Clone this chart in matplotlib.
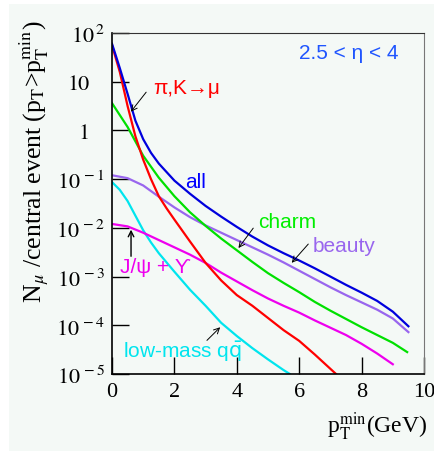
import numpy as np
import matplotlib
matplotlib.use('Agg')
import matplotlib.pyplot as plt
from matplotlib.patches import Rectangle
from matplotlib.ticker import FixedLocator, NullFormatter, LogLocator

plt.rcParams['mathtext.fontset'] = 'stix'

# curves: pT_min (GeV) and log10(N_mu / central event)
x_pik = [0, 0.25, 0.5, 0.75, 1.0, 1.25, 1.5, 1.75, 2.0, 2.5, 3.0, 3.5, 4.0, 4.5, 5.0, 5.5, 6.0, 6.5, 7.18]
y_pik = [1.75, 1.2, 0.5, -0.12, -0.6, -1.0, -1.35, -1.6, -1.83, -2.28, -2.72, -3.08, -3.38,
         -3.6, -3.85, -4.1, -4.32, -4.6, -5.0]

x_all = [0, 0.25, 0.5, 0.75, 1.0, 1.25, 1.5, 2.0, 2.5, 3.0, 3.5, 4.0, 4.5, 5.0, 5.5, 6.0, 6.5,
         7.0, 7.5, 8.0, 8.5, 9.0, 9.5]
y_all = [1.78, 1.28, 0.75, 0.2, -0.18, -0.46, -0.68, -1.03, -1.3, -1.55, -1.77, -1.98, -2.18,
         -2.36, -2.52, -2.67, -2.83, -3.0, -3.17, -3.33, -3.5, -3.72, -4.02]

x_charm = [0, 0.5, 1.0, 1.5, 2.0, 2.5, 3.0, 3.5, 4.0, 4.5, 5.0, 5.5, 6.0, 6.5, 7.0, 7.5, 8.0,
           8.5, 9.0, 9.46]
y_charm = [0.56, 0.07, -0.52, -0.97, -1.35, -1.68, -1.96, -2.22, -2.46, -2.7, -2.93, -3.13,
           -3.32, -3.52, -3.7, -3.87, -4.04, -4.2, -4.36, -4.55]

x_beauty = [0, 0.5, 1.0, 1.5, 2.0, 2.5, 3.0, 3.5, 4.0, 4.5, 5.0, 5.5, 6.0, 6.5, 7.0, 7.5, 8.0,
            8.5, 9.0, 9.5]
y_beauty = [-0.92, -0.98, -1.13, -1.36, -1.58, -1.78, -1.95, -2.1, -2.25, -2.4, -2.55, -2.71,
            -2.88, -3.05, -3.22, -3.38, -3.53, -3.68, -3.86, -4.14]

x_lowmass = [0, 0.25, 0.5, 0.75, 1.0, 1.25, 1.5, 2.0, 2.5, 3.0, 3.5, 4.0, 4.5, 5.0, 5.5, 5.7]
y_lowmass = [-1.06, -1.22, -1.45, -1.75, -2.05, -2.3, -2.52, -2.9, -3.27, -3.6, -3.95, -4.22,
             -4.47, -4.7, -4.92, -5.0]

x_onia = [0, 0.5, 1.0, 1.5, 2.0, 2.5, 3.0, 3.5, 4.0, 4.5, 5.0, 5.5, 6.0, 6.5, 7.0, 7.5, 8.0,
          8.5, 9.0]
y_onia = [-1.92, -1.97, -2.1, -2.25, -2.4, -2.55, -2.72, -2.92, -3.1, -3.28, -3.45, -3.6,
          -3.74, -3.9, -4.05, -4.2, -4.38, -4.58, -4.8]

ytick_vals = [1e-5, 1e-4, 1e-3, 1e-2, 1e-1, 1, 10, 100]
ytick_labels = [r'$10^{\,-5}$', r'$10^{\,-4}$', r'$10^{\,-3}$', r'$10^{\,-2}$',
                r'$10^{\,-1}$', '1', '10', r'$10^{\,2}$']

bg = '#f4f9f6'
fig = plt.figure(figsize=(4.35, 4.52), dpi=100, facecolor='white')
fig.patches.append(Rectangle((9 / 435, 0), 1, 1 - 5 / 452, transform=fig.transFigure,
                             facecolor=bg, edgecolor='none', zorder=-10))
ax = fig.add_axes([112 / 435, 1 - 375 / 452, 312 / 435, 341 / 452])
ax.set_facecolor(bg)

lw = 1.6
ax.plot(x_beauty, 10 ** np.array(y_beauty), color='#9966ee', lw=lw)
ax.plot(x_lowmass, 10 ** np.array(y_lowmass), color='#00e5ee', lw=lw)
ax.plot(x_onia, 10 ** np.array(y_onia), color='#ee00ee', lw=lw)
ax.plot(x_charm, 10 ** np.array(y_charm), color='#00e000', lw=lw)
ax.plot(x_pik, 10 ** np.array(y_pik), color='#ff0000', lw=lw)
ax.plot(x_all, 10 ** np.array(y_all), color='#0000dd', lw=lw)

ax.set_yscale('log')
ax.set_xlim(0, 10)
ax.set_ylim(1e-5, 1e2)

# exponent labels go on the axis; "1" and "10" are set further left, as in the original
ax.yaxis.set_major_locator(FixedLocator(ytick_vals))
ax.set_yticklabels([l if l.startswith('$') else '' for l in ytick_labels])
ytrans = ax.get_yaxis_transform()
for v, l in zip(ytick_vals, ytick_labels):
    if not l.startswith('$'):
        ax.text(-22 / 312, v, l, transform=ytrans, ha='right', va='center_baseline',
                fontsize=16, family='STIXGeneral')
ax.yaxis.set_minor_locator(LogLocator(base=10, subs=np.arange(2, 10)))
ax.yaxis.set_minor_formatter(NullFormatter())
ax.set_xticks([0, 2, 4, 6, 8, 10])
ax.set_xticklabels(['0', '2', '4', '6', '8', '10'])
ax.tick_params(axis='both', which='major', direction='in', length=12, width=1,
               labelsize=16, pad=6, top=False, right=False)
ax.tick_params(axis='y', which='major', pad=5)
ax.tick_params(axis='y', which='minor', direction='in', length=6, width=1, right=False)
for lab in ax.get_xticklabels():
    lab.set_fontfamily('Liberation Serif')

for s in ['left', 'bottom']:
    ax.spines[s].set_linewidth(1.2)
ax.spines['top'].set_color('#333333')
ax.spines['right'].set_color('#777777')

ax.set_ylabel(r'N$_{\mu}$ /central event (p$_{\rm T}$>p$_{\rm T}^{\rm min}$)',
              fontsize=18.5, family='Liberation Serif')
ax.yaxis.set_label_coords(-0.195, 0.625)
fig.text(427 / 435, 1 - 427 / 452, r'p$_{\rm T}^{\rm min}$(GeV)', ha='right', va='center',
         fontsize=17, family='Liberation Serif')

sans = ['Liberation Sans', 'DejaVu Sans']
fs = 15
ax.text(9.17, 10 ** 1.59, '2.5 < η < 4', color='#1f55ff', fontsize=fs,
        family=sans, ha='right', va='center')
ax.text(1.31, 10 ** 0.89, 'π,K→μ', color='#ff0000', fontsize=fs,
        family=sans, va='center')
ax.annotate('', xy=(0.55, 10 ** 0.34), xytext=(1.15, 10 ** 0.83),
            arrowprops=dict(arrowstyle='->', color='black', lw=0.7))
ax.text(2.34, 10 ** -1.04, 'all', color='#0000ff', fontsize=fs, family=sans, va='center')
ax.text(4.68, 10 ** -1.86, 'charm', color='#00ee00', fontsize=fs, family=sans, va='center')
ax.annotate('', xy=(4.0, 10 ** -2.46), xytext=(4.58, 10 ** -1.96),
            arrowprops=dict(arrowstyle='->', color='black', lw=0.7))
ax.text(6.44, 10 ** -2.37, 'beauty', color='#9966ee', fontsize=fs, family=sans, va='center')
ax.annotate('', xy=(5.7, 10 ** -2.76), xytext=(6.35, 10 ** -2.29),
            arrowprops=dict(arrowstyle='->', color='black', lw=0.7))
ax.text(0.26, 10 ** -2.8, 'J/ψ + ϒ', color='#ee00ee', fontsize=fs,
        family=sans, va='center')
ax.annotate('', xy=(0.61, 10 ** -1.98), xytext=(0.61, 10 ** -2.64),
            arrowprops=dict(arrowstyle='->', color='black', lw=1.0))
ax.text(0.35, 10 ** -4.53, r'low-mass q$\bar{\mathrm{q}}$', color='#00e5ee', fontsize=fs,
        family=sans, va='center', math_fontfamily='dejavusans')
ax.annotate('', xy=(3.53, 10 ** -4.0), xytext=(2.98, 10 ** -4.35),
            arrowprops=dict(arrowstyle='->', color='black', lw=0.7))

fig.savefig('out.png', dpi=100, facecolor=fig.get_facecolor())
